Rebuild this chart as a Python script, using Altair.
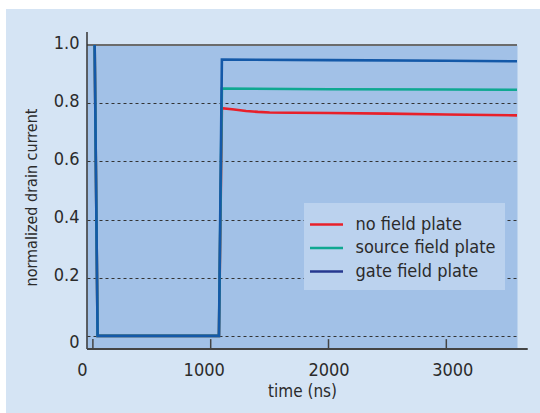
import altair as alt
import pandas as pd

SERIES = ["no field plate", "source field plate", "gate field plate"]
LINE_COLORS = ["#e8202a", "#0fa891", "#1459a8"]
LEGEND_COLORS = ["#e8202a", "#0fa891", "#26388f"]

# switching transient shared by all three devices
t_common = [15, 40, 1070]
i_common = [1.0, 0.0, 0.0]

t_nofp = [1095, 1200, 1300, 1400, 1500, 1700, 2000, 2500, 3000, 3600]
i_nofp = [0.783, 0.778, 0.773, 0.770, 0.768, 0.767, 0.766, 0.764, 0.761, 0.758]
t_sfp = [1095, 2000, 3000, 3600]
i_sfp = [0.850, 0.848, 0.847, 0.846]
t_gfp = [1095, 2000, 3000, 3600]
i_gfp = [0.950, 0.948, 0.946, 0.944]

x_ticks = [0, 1000, 2000, 3000]
y_ticks = [0, 0.2, 0.4, 0.6, 0.8, 1.0]

X_MIN, X_MAX = -50, 3600
Y_MIN, Y_MAX = -0.045, 1.0

FONT = "DejaVu Sans Condensed, Liberation Sans Narrow, sans-serif"
TXT = "#2b2b2b"

rows = []
for name, ts, vs in zip(SERIES, [t_nofp, t_sfp, t_gfp], [i_nofp, i_sfp, i_gfp]):
    for k, (t, v) in enumerate(zip(t_common + ts, i_common + vs)):
        rows.append({"series": name, "t": t, "v": v, "o": k})
df = pd.DataFrame(rows)

xs = alt.Scale(domain=[X_MIN, X_MAX], nice=False, zero=False)
ys = alt.Scale(domain=[Y_MIN, Y_MAX], nice=False, zero=False)

XAX = alt.Axis(
    values=x_ticks, format="d", grid=False, domain=False, ticks=False, tickSize=0,
    labelFontSize=18, labelPadding=12, labelColor=TXT, labelFont=FONT,
    labelOffset={"condition": [
        {"test": "datum.value === 0", "value": -11},
        {"test": "datum.value === 1000", "value": -7},
        {"test": "datum.value === 3000", "value": 6}], "value": 0},
    title="time (ns)", titleFontSize=17, titleFontWeight="normal",
    titleColor=TXT, titleFont=FONT, titlePadding=4,
)
YAX = alt.Axis(
    values=y_ticks, grid=True, gridDash=[3, 3], gridColor="#333333", gridWidth=1,
    domain=False, ticks=False, tickSize=0,
    labelFontSize=18, labelPadding=8, labelColor=TXT, labelFont=FONT,
    labelExpr="datum.value == 0 ? '0' : format(datum.value, '.1f')",
    labelOffset={"condition": {"test": "datum.value === 0", "value": 7}, "value": -2},
    title="normalized drain current", titleFontSize=16, titleFontWeight="normal",
    titleColor=TXT, titleFont=FONT, titlePadding=14,
)

X = alt.X("t:Q", scale=xs, axis=XAX)
Y = alt.Y("v:Q", scale=ys, axis=YAX)

# white page margins around the light panel
strips = pd.DataFrame([
    {"x": -87, "x2": -81, "y": -45, "y2": 368},
    {"x": -87, "x2": 453, "y": -45, "y2": -36},
])
strip_layer = alt.Chart(strips).mark_rect(color="white").encode(
    x=alt.X("x:Q", scale=None, axis=None), x2="x2:Q",
    y=alt.Y("y:Q", scale=None, axis=None), y2="y2:Q",
)

top_border = alt.Chart(pd.DataFrame([{"t": X_MIN, "t2": X_MAX, "v": Y_MAX}])).mark_rule(
    color="#6b6b6b", strokeWidth=2).encode(x=X, x2="t2:Q", y=Y)

carrier = alt.Chart(df).mark_line(strokeWidth=1).encode(
    x=X, y=Y, order="o:Q",
    color=alt.Color("series:N", scale=alt.Scale(domain=SERIES, range=LEGEND_COLORS),
                    legend=alt.Legend(
                        title=None, orient="none", legendX=217, legendY=158,
                        fillColor="#bbd2ee", padding=9.5,
                        symbolType="M-1.535,0H1.535", symbolSize=462,
                        symbolStrokeWidth=2.5, symbolOffset=1,
                        labelFontSize=18, labelFont=FONT, labelColor=TXT,
                        labelOffset=17, rowPadding=2.5, labelLimit=300)),
)

lines = [
    alt.Chart(df).transform_filter(alt.datum.series == s).mark_line(
        color=c, strokeWidth=2.6).encode(x=X, y=Y, order="o:Q")
    for s, c in zip(SERIES, LINE_COLORS)
]

y_axis_line = alt.Chart(pd.DataFrame([{"t": X_MIN, "v": Y_MIN, "v2": 1.045}])).mark_rule(
    color="#333333", strokeWidth=1.5).encode(x=X, y=Y, y2="v2:Q")
x_axis_line = alt.Chart(pd.DataFrame([{"t": X_MIN, "t2": 3691, "v": Y_MIN}])).mark_rule(
    color="#444444", strokeWidth=2).encode(x=X, x2="t2:Q", y=Y)
x_tick_marks = alt.Chart(pd.DataFrame({"t": x_ticks, "v": [Y_MIN] * 4, "v2": [-0.011] * 4})).mark_rule(
    color="#444444", strokeWidth=1.5).encode(x=X, y=Y, y2="v2:Q")

chart = alt.layer(
    strip_layer, top_border, carrier, *lines, y_axis_line, x_axis_line, x_tick_marks
).properties(
    width=430, height=304,
    padding={"left": 87, "top": 45, "right": 23, "bottom": 64},
    autosize=alt.AutoSizeParams(type="none"),
    background="#d5e4f4",
).configure_view(fill="#a2c1e7", stroke="transparent")

chart.save("out.html", embed_options={"renderer": "svg", "actions": False})
